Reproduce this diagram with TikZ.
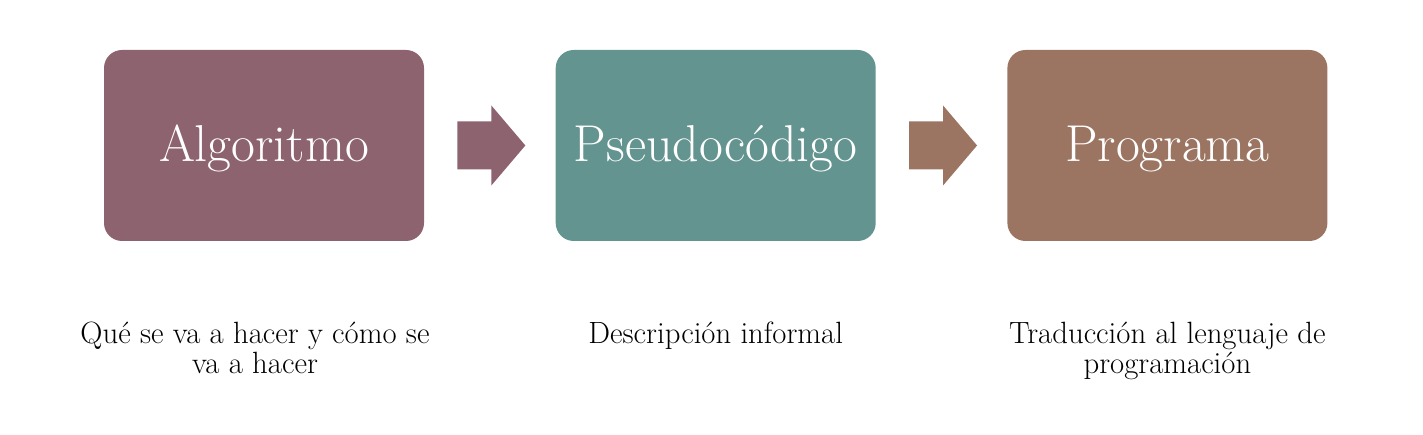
\documentclass[tikz,border=0pt]{standalone}
\usetikzlibrary{positioning,calc}
\definecolor{algcol}{RGB}{142,99,112}
\definecolor{pseucol}{RGB}{100,148,144}
\definecolor{progcol}{RGB}{155,117,98}
\tikzset{
  stage/.style={rectangle, rounded corners=0.36cm, minimum width=6.4cm,
    minimum height=3.82cm, inner sep=0pt, text=white,
    text height=0.9cm, text depth=0.26cm,
    font=\fontsize{29.5}{34}\selectfont},
  note/.style={align=center, inner sep=0pt, anchor=north,
    font=\fontsize{17.5}{17.5}\selectfont}
}
% block arrow starting 0.66cm right of a stage
\newcommand{\blockarrow}[2]{%
  \fill[#2] ($(#1.east)+(0.66,0.48)$) -- ++(0.68,0) -- ++(0,0.32)
    -- ++(0.68,-0.8) -- ++(-0.68,-0.8) -- ++(0,0.32) -- ++(-0.68,0) -- cycle;
}
\begin{document}
\begin{tikzpicture}
  \useasboundingbox (0,0) rectangle (28.46,8.7);
  % the three stages
  \node[stage, fill=algcol] (alg) at (5.28,5.79) {Algoritmo};
  \node[stage, fill=pseucol, right=2.62cm of alg] (pseu) {Pseudocódigo};
  \node[stage, fill=progcol, right=2.62cm of pseu] (prog) {Programa};

  \blockarrow{alg}{algcol}
  \blockarrow{pseu}{progcol}

  % descriptions
  \node[note, below=1.6cm of alg, xshift=-0.18cm] (algtxt)
    {Qué se va a hacer y cómo se\\va a hacer};
  \node[note, below=1.6cm of pseu] (pseutxt) {Descripción informal};
  \node[note, below=1.6cm of prog] (progtxt)
    {Traducción al lenguaje de\\programación};
\end{tikzpicture}
\end{document}
